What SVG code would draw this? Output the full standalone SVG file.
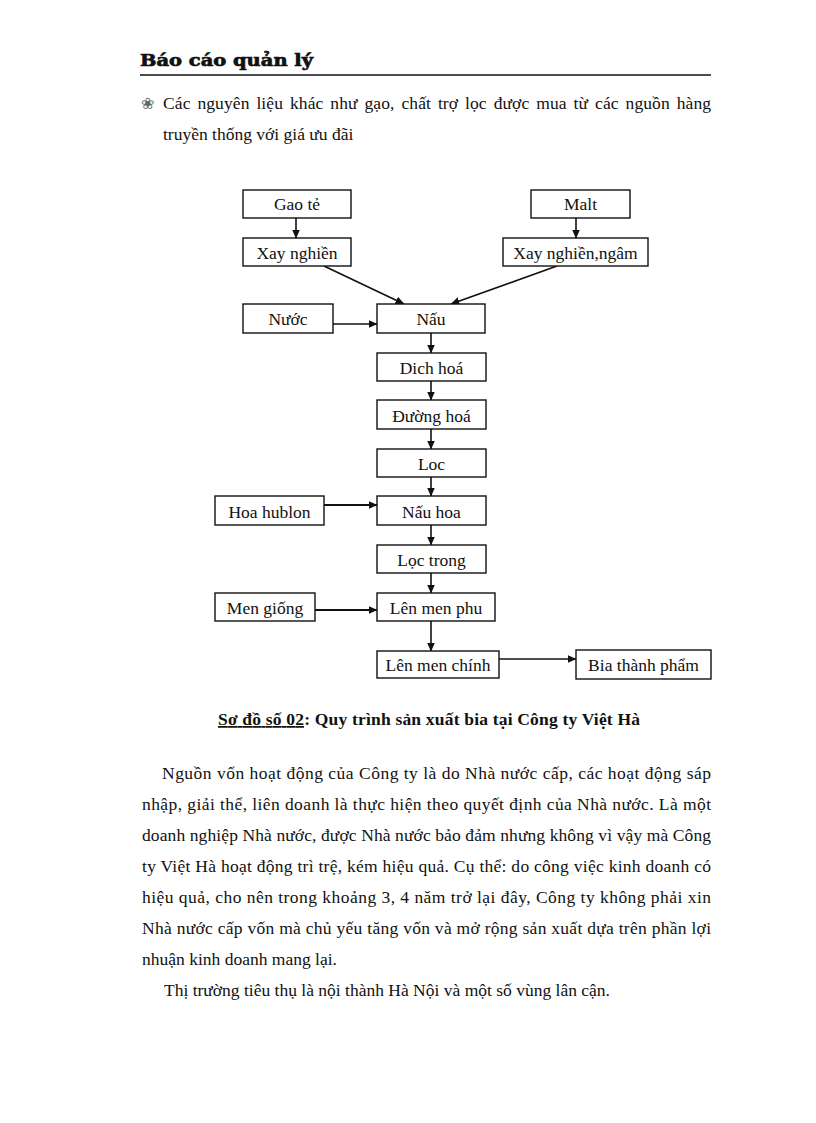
<svg xmlns="http://www.w3.org/2000/svg" width="816" height="1123" viewBox="0 0 816 1123">
<style>
.body{font-family:"Liberation Serif","Times New Roman",serif;font-size:17.5px;fill:#111}
.lbl{font-family:"Liberation Serif","Times New Roman",serif;font-size:17.5px;fill:#111;text-anchor:middle}
.box{fill:#fff;stroke:#111;stroke-width:1.4}
.con{stroke:#111;stroke-width:1.6;fill:none;marker-end:url(#ah)}
.hdr{font-family:"DejaVu Serif",serif;font-weight:bold;font-size:17px;fill:#111;stroke:#111;stroke-width:0.7}
.cap{font-family:"Liberation Serif","Times New Roman",serif;font-weight:bold;font-size:17.5px;fill:#111}
</style>
<defs>
<marker id="ah" markerWidth="9" markerHeight="8" refX="8.5" refY="4" orient="auto" markerUnits="userSpaceOnUse">
<path d="M0,0 L9,4 L0,8 Z" fill="#111"/>
</marker>
</defs>
<rect x="0" y="0" width="816" height="1123" fill="#fff"/>

<g id="header">
<text class="hdr" x="140" y="66" textLength="173" lengthAdjust="spacingAndGlyphs">Báo cáo quản lý</text>
<line x1="140" y1="75" x2="711" y2="75" stroke="#111" stroke-width="1.6"/>
</g>

<g id="intro">
<text x="141" y="109" style="font-family:'DejaVu Sans',sans-serif;font-size:16px;fill:#666">❀</text>
<text class="body" x="163" y="109" textLength="548" lengthAdjust="spacing" word-spacing="2.5">Các nguyên liệu khác như gạo, chất trợ lọc được mua từ các nguồn hàng</text>
<text class="body" x="163" y="140">truyền thống với giá ưu đãi</text>
</g>

<g id="connectors">
<line class="con" x1="296" y1="218" x2="296" y2="238"/>
<line class="con" x1="576" y1="218" x2="576" y2="238"/>
<line class="con" x1="324" y1="266" x2="404" y2="304"/>
<line class="con" x1="557" y1="266" x2="451" y2="304"/>
<line class="con" x1="333" y1="324" x2="377" y2="324"/>
<line class="con" x1="431" y1="333" x2="431" y2="353"/>
<line class="con" x1="431" y1="381" x2="431" y2="400"/>
<line class="con" x1="431" y1="429" x2="431" y2="449"/>
<line class="con" x1="431" y1="477" x2="431" y2="496"/>
<line class="con" x1="324" y1="505" x2="377" y2="505" style="stroke-width:2"/>
<line class="con" x1="431" y1="525" x2="431" y2="545"/>
<line class="con" x1="431" y1="573" x2="431" y2="593"/>
<line class="con" x1="315" y1="610" x2="377" y2="610" style="stroke-width:2"/>
<line class="con" x1="431" y1="621" x2="431" y2="651"/>
<line class="con" x1="499" y1="659" x2="576" y2="659"/>
</g>

<g id="n_gao"><rect class="box" x="243" y="190" width="108" height="28"/><text class="lbl" x="297" y="210">Gao tẻ</text></g>
<g id="n_malt"><rect class="box" x="531" y="190" width="99" height="28"/><text class="lbl" x="580.5" y="210">Malt</text></g>
<g id="n_xay1"><rect class="box" x="243" y="238" width="108" height="28"/><text class="lbl" x="297" y="259">Xay nghiền</text></g>
<g id="n_xay2"><rect class="box" x="503" y="238" width="145" height="28"/><text class="lbl" x="575.5" y="259">Xay nghiền,ngâm</text></g>
<g id="n_nuoc"><rect class="box" x="243" y="304" width="90" height="29"/><text class="lbl" x="288" y="325">Nước</text></g>
<g id="n_nau"><rect class="box" x="377" y="304" width="108" height="29"/><text class="lbl" x="431" y="325">Nấu</text></g>
<g id="n_dich"><rect class="box" x="377" y="353" width="109" height="28"/><text class="lbl" x="431.5" y="374">Dich hoá</text></g>
<g id="n_duong"><rect class="box" x="377" y="400" width="109" height="29"/><text class="lbl" x="431.5" y="422">Đường hoá</text></g>
<g id="n_loc"><rect class="box" x="377" y="449" width="109" height="28"/><text class="lbl" x="431.5" y="470">Loc</text></g>
<g id="n_hublon"><rect class="box" x="215" y="496" width="109" height="29"/><text class="lbl" x="269.5" y="518">Hoa hublon</text></g>
<g id="n_nauhoa"><rect class="box" x="377" y="496" width="109" height="29"/><text class="lbl" x="431.5" y="518">Nấu hoa</text></g>
<g id="n_loctrong"><rect class="box" x="377" y="545" width="109" height="28"/><text class="lbl" x="431.5" y="566">Lọc trong</text></g>
<g id="n_mengiong"><rect class="box" x="215" y="593" width="100" height="28"/><text class="lbl" x="265" y="614">Men giống</text></g>
<g id="n_lenmenphu"><rect class="box" x="377" y="593" width="118" height="28"/><text class="lbl" x="436" y="614">Lên men phu</text></g>
<g id="n_lenmenchinh"><rect class="box" x="377" y="651" width="122" height="27"/><text class="lbl" x="438" y="671">Lên men chính</text></g>
<g id="n_bia"><rect class="box" x="576" y="650" width="135" height="29"/><text class="lbl" x="643.5" y="671">Bia thành phẩm</text></g>

<g id="caption">
<text class="cap" x="218" y="725" textLength="422" lengthAdjust="spacing"><tspan text-decoration="underline">Sơ đồ số 02</tspan>: Quy trình sản xuất bia tại Công ty Việt Hà</text>
</g>

<g id="paragraph" xml:space="preserve">
<text class="body" x="162" y="779" textLength="549" lengthAdjust="spacing">Nguồn vốn hoạt động của Công ty là do Nhà nước cấp, các hoạt động sáp</text>
<text class="body" x="142" y="810" textLength="569" lengthAdjust="spacing">nhập,  giải thể, liên doanh   là thực hiện theo quyết định của Nhà nước.  Là một</text>
<text class="body" x="142" y="841" textLength="569" lengthAdjust="spacing">doanh nghiệp Nhà nước, được Nhà nước bảo đảm nhưng không vì vậy mà Công</text>
<text class="body" x="142" y="872" textLength="569" lengthAdjust="spacing">ty Việt Hà hoạt động trì trệ, kém hiệu quả. Cụ thể: do công việc kinh doanh có</text>
<text class="body" x="142" y="903" textLength="569" lengthAdjust="spacing">hiệu quả, cho nên trong khoảng 3, 4 năm trở lại đây, Công ty không phải xin</text>
<text class="body" x="142" y="934" textLength="569" lengthAdjust="spacing">Nhà nước cấp vốn mà chủ yếu tăng vốn và mở rộng sản xuất dựa trên phần lợi</text>
<text class="body" x="142" y="965">nhuận kinh doanh mang lại.</text>
<text class="body" x="164" y="996">Thị trường tiêu thụ là nội thành Hà Nội và một số vùng lân cận.</text>
</g>
</svg>
